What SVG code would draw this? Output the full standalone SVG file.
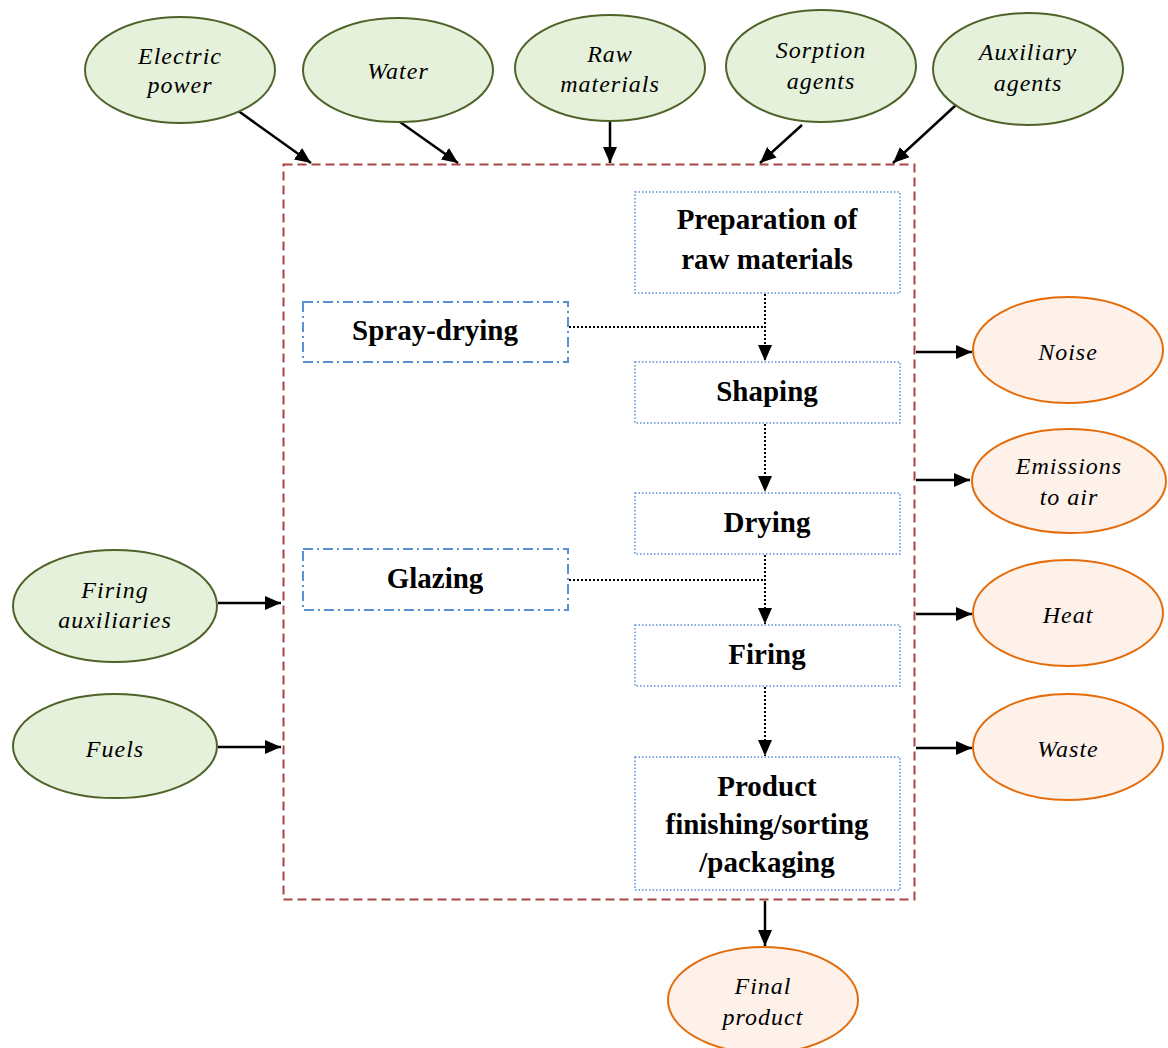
<svg xmlns="http://www.w3.org/2000/svg" width="1168" height="1048" viewBox="0 0 1168 1048">
<style>
.in{fill:#e6f1dc;stroke:#4f6228;stroke-width:2}
.out{fill:#fdf1ea;stroke:#e46c0a;stroke-width:2}
.et{font-family:"Liberation Serif","Times New Roman",serif;font-style:italic;font-size:24px;letter-spacing:1px;fill:#000;text-anchor:middle}
.bt{font-family:"Liberation Serif","Times New Roman",serif;font-weight:bold;font-size:29px;fill:#000;text-anchor:middle}
.proc{fill:#fff;stroke:#5b8fd6;stroke-width:1.5;stroke-dasharray:1.5,2}
.opt{fill:#fff;stroke:#5b8fd6;stroke-width:2;stroke-dasharray:10,4,2,4}
.solid{stroke:#000;stroke-width:2.5;fill:none}
.dot{stroke:#000;stroke-width:2;stroke-dasharray:2,2;fill:none}
</style>
<defs>
<marker id="ah" markerUnits="userSpaceOnUse" markerWidth="18" markerHeight="16" refX="16" refY="8" orient="auto">
<path d="M0,1 L16,8 L0,15 Z" fill="#000"/>
</marker>
</defs>
<rect width="1168" height="1048" fill="#fff"/>
<g id="boundary">
<rect x="283.5" y="164.5" width="631" height="735" fill="none" stroke="#a94442" stroke-width="2" stroke-dasharray="9,5"/>
</g>
<g id="connectors">
<line class="solid" x1="237" y1="110" x2="311" y2="163" marker-end="url(#ah)"/>
<line class="solid" x1="400" y1="122" x2="458" y2="163" marker-end="url(#ah)"/>
<line class="solid" x1="610" y1="122" x2="610" y2="163" marker-end="url(#ah)"/>
<line class="solid" x1="802" y1="125" x2="760" y2="163" marker-end="url(#ah)"/>
<line class="solid" x1="956" y1="105" x2="893" y2="163" marker-end="url(#ah)"/>
<line class="solid" x1="218" y1="603" x2="281" y2="603" marker-end="url(#ah)"/>
<line class="solid" x1="218" y1="747" x2="281" y2="747" marker-end="url(#ah)"/>
<line class="solid" x1="916" y1="352" x2="972" y2="352" marker-end="url(#ah)"/>
<line class="solid" x1="916" y1="480" x2="970" y2="480" marker-end="url(#ah)"/>
<line class="solid" x1="916" y1="614" x2="972" y2="614" marker-end="url(#ah)"/>
<line class="solid" x1="916" y1="748" x2="972" y2="748" marker-end="url(#ah)"/>
<line class="solid" x1="765" y1="901" x2="765" y2="946" marker-end="url(#ah)"/>
<line class="dot" x1="765" y1="294" x2="765" y2="361" marker-end="url(#ah)"/>
<line class="dot" x1="765" y1="424" x2="765" y2="492" marker-end="url(#ah)"/>
<line class="dot" x1="765" y1="555" x2="765" y2="624" marker-end="url(#ah)"/>
<line class="dot" x1="765" y1="687" x2="765" y2="756" marker-end="url(#ah)"/>
<line class="dot" x1="569" y1="327" x2="765" y2="327"/>
<line class="dot" x1="569" y1="580" x2="765" y2="580"/>
</g>
<g id="electric-power"><ellipse class="in" cx="180" cy="70" rx="95" ry="53"/><text class="et" x="180" y="64">Electric</text><text class="et" x="180" y="93">power</text></g>
<g id="water"><ellipse class="in" cx="398" cy="70" rx="95" ry="52"/><text class="et" x="398" y="79">Water</text></g>
<g id="raw-materials"><ellipse class="in" cx="610" cy="68" rx="95" ry="53"/><text class="et" x="610" y="62">Raw</text><text class="et" x="610" y="92">materials</text></g>
<g id="sorption-agents"><ellipse class="in" cx="821" cy="66" rx="95" ry="56"/><text class="et" x="821" y="58">Sorption</text><text class="et" x="821" y="89">agents</text></g>
<g id="auxiliary-agents"><ellipse class="in" cx="1028" cy="69" rx="95" ry="56"/><text class="et" x="1028" y="60">Auxiliary</text><text class="et" x="1028" y="91">agents</text></g>
<g id="firing-auxiliaries"><ellipse class="in" cx="115" cy="606" rx="102" ry="56"/><text class="et" x="115" y="598">Firing</text><text class="et" x="115" y="628">auxiliaries</text></g>
<g id="fuels"><ellipse class="in" cx="115" cy="746" rx="102" ry="52"/><text class="et" x="115" y="757">Fuels</text></g>
<g id="noise"><ellipse class="out" cx="1068" cy="350" rx="95" ry="53"/><text class="et" x="1068" y="360">Noise</text></g>
<g id="emissions-to-air"><ellipse class="out" cx="1069" cy="481" rx="97" ry="52"/><text class="et" x="1069" y="474">Emissions</text><text class="et" x="1069" y="505">to air</text></g>
<g id="heat"><ellipse class="out" cx="1068" cy="613" rx="95" ry="53"/><text class="et" x="1068" y="623">Heat</text></g>
<g id="waste"><ellipse class="out" cx="1068" cy="747" rx="95" ry="53"/><text class="et" x="1068" y="757">Waste</text></g>
<g id="final-product"><ellipse class="out" cx="763" cy="1000" rx="95" ry="53"/><text class="et" x="763" y="994">Final</text><text class="et" x="763" y="1025">product</text></g>
<g id="preparation"><rect class="proc" x="635" y="192" width="265" height="101"/><text class="bt" x="767" y="229">Preparation of</text><text class="bt" x="767" y="269">raw materials</text></g>
<g id="spray-drying"><rect class="opt" x="303" y="302" width="265" height="60"/><text class="bt" x="435" y="340">Spray-drying</text></g>
<g id="shaping"><rect class="proc" x="635" y="362" width="265" height="61"/><text class="bt" x="767" y="401">Shaping</text></g>
<g id="drying"><rect class="proc" x="635" y="493" width="265" height="61"/><text class="bt" x="767" y="532">Drying</text></g>
<g id="glazing"><rect class="opt" x="303" y="549" width="265" height="61"/><text class="bt" x="435" y="588">Glazing</text></g>
<g id="firing"><rect class="proc" x="635" y="625" width="265" height="61"/><text class="bt" x="767" y="664">Firing</text></g>
<g id="finishing"><rect class="proc" x="635" y="757" width="265" height="133"/><text class="bt" x="767" y="796">Product</text><text class="bt" x="767" y="834">finishing/sorting</text><text class="bt" x="767" y="872">/packaging</text></g>
</svg>
